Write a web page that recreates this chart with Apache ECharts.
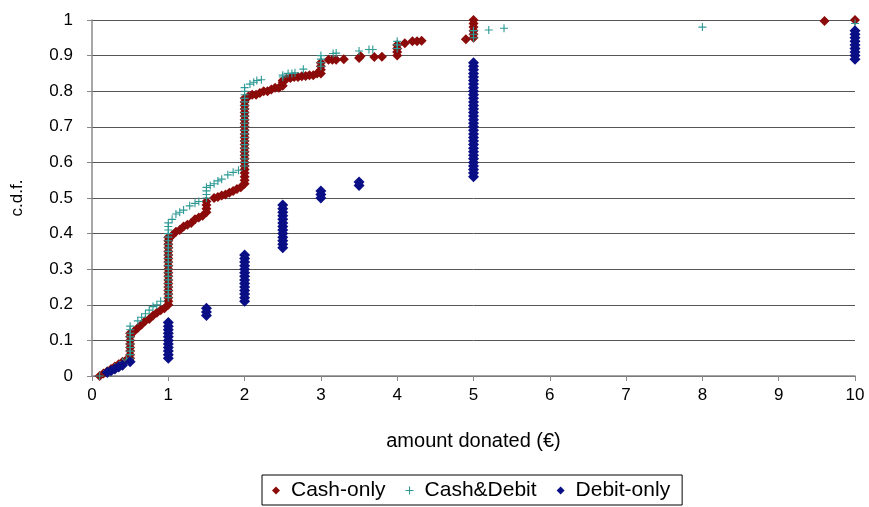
<!DOCTYPE html>
<html>
<head>
<meta charset="utf-8">
<script src="https://cdn.jsdelivr.net/npm/echarts@6/dist/echarts.min.js"></script>
<style>
html,body{margin:0;padding:0;background:#fff;}
#chart{width:869px;height:507px;}
</style>
</head>
<body>
<div id="chart"></div>
<script>
// x-axis ticks 0..10, y-axis ticks 0..1
const xTicks = [0,1,2,3,4,5,6,7,8,9,10];
const yTicks = [0,0.1,0.2,0.3,0.4,0.5,0.6,0.7,0.8,0.9,1];
const seriesNames = ['Cash-only','Cash&Debit','Debit-only'];

// [amount donated, c.d.f.]
const cashOnly = [
  [0.1,0.0],[0.15,0.007],[0.2,0.013],[0.25,0.02],[0.3,0.027],[0.35,0.033],[0.4,0.04],[0.45,0.045],
  [0.5,0.05],[0.5,0.06],[0.5,0.07],[0.5,0.08],[0.5,0.09],[0.5,0.10],[0.5,0.11],[0.5,0.12],
  [0.55,0.125],[0.6,0.135],[0.65,0.145],[0.7,0.155],[0.75,0.16],[0.8,0.17],[0.85,0.178],[0.9,0.185],[0.95,0.19],
  [1,0.20],[1,0.21],[1,0.22],[1,0.23],[1,0.24],[1,0.25],[1,0.26],[1,0.27],[1,0.28],[1,0.29],
  [1,0.30],[1,0.31],[1,0.32],[1,0.33],[1,0.34],[1,0.35],[1,0.36],[1,0.37],[1,0.38],[1,0.39],
  [1.05,0.395],[1.1,0.405],[1.15,0.41],[1.2,0.42],[1.25,0.425],[1.3,0.43],[1.35,0.44],[1.4,0.445],[1.45,0.45],
  [1.5,0.46],[1.5,0.47],[1.5,0.48],[1.5,0.49],
  [1.6,0.5],[1.65,0.503],[1.7,0.507],[1.75,0.51],[1.8,0.515],[1.85,0.52],[1.9,0.525],[1.95,0.53],
  [2,0.54],[2,0.55],[2,0.56],[2,0.57],[2,0.58],[2,0.59],[2,0.60],[2,0.61],[2,0.62],[2,0.63],
  [2,0.64],[2,0.65],[2,0.66],[2,0.67],[2,0.68],[2,0.69],[2,0.70],[2,0.71],[2,0.72],[2,0.73],
  [2,0.74],[2,0.75],[2,0.76],[2,0.77],[2,0.78],
  [2.05,0.785],[2.1,0.79],[2.15,0.79],[2.2,0.795],[2.25,0.80],[2.3,0.80],[2.35,0.805],[2.4,0.81],[2.45,0.81],
  [2.5,0.815],[2.5,0.825],[2.5,0.83],
  [2.55,0.835],[2.6,0.837],[2.65,0.84],[2.7,0.84],[2.75,0.842],[2.8,0.843],[2.85,0.845],[2.9,0.845],[2.95,0.85],
  [3,0.85],[3,0.86],[3,0.87],[3,0.88],
  [3.1,0.888],[3.15,0.888],[3.2,0.888],[3.3,0.89],[3.5,0.893],[3.52,0.898],[3.7,0.896],[3.8,0.897],
  [4,0.90],[4,0.91],[4,0.92],[4,0.93],
  [4.1,0.935],[4.2,0.94],[4.26,0.94],[4.32,0.942],
  [4.9,0.946],
  [5,0.95],[5,0.96],[5,0.97],[5,0.98],[5,0.99],[5,1.0],
  [9.6,0.997],[10,1.0]
];

const cashDebit = [
  [0.1,0.0],[0.2,0.015],[0.3,0.025],[0.4,0.04],[0.45,0.045],
  [0.5,0.05],[0.5,0.06],[0.5,0.07],[0.5,0.08],[0.5,0.09],[0.5,0.10],[0.5,0.11],[0.5,0.12],[0.5,0.13],[0.5,0.14],
  [0.6,0.155],[0.65,0.165],[0.7,0.175],[0.75,0.185],[0.8,0.195],[0.85,0.20],[0.9,0.21],
  [1,0.22],[1,0.23],[1,0.24],[1,0.25],[1,0.26],[1,0.27],[1,0.28],[1,0.29],[1,0.30],[1,0.31],
  [1,0.32],[1,0.33],[1,0.34],[1,0.35],[1,0.36],[1,0.37],[1,0.38],[1,0.39],[1,0.40],[1,0.41],
  [1,0.42],[1,0.43],
  [1.05,0.44],[1.1,0.455],[1.15,0.46],[1.2,0.466],[1.28,0.478],[1.35,0.485],[1.4,0.49],
  [1.5,0.50],[1.5,0.51],[1.5,0.52],[1.5,0.53],
  [1.55,0.535],[1.6,0.54],[1.65,0.548],[1.7,0.553],[1.78,0.565],[1.85,0.572],[1.92,0.578],
  [2,0.59],[2,0.60],[2,0.61],[2,0.62],[2,0.63],[2,0.64],[2,0.65],[2,0.66],[2,0.67],[2,0.68],
  [2,0.69],[2,0.70],[2,0.71],[2,0.72],[2,0.73],[2,0.74],[2,0.75],[2,0.76],[2,0.77],[2,0.78],
  [2,0.79],[2,0.80],[2,0.81],
  [2.07,0.82],[2.12,0.825],[2.16,0.83],[2.22,0.832],
  [2.5,0.84],[2.5,0.845],
  [2.57,0.85],[2.62,0.85],[2.66,0.852],[2.77,0.862],
  [3,0.87],[3,0.88],[3,0.89],[3,0.90],
  [3.16,0.906],[3.2,0.907],[3.5,0.913],[3.63,0.917],[3.68,0.917],
  [4,0.92],[4,0.93],[4,0.94],
  [5,0.95],[5,0.96],[5,0.97],
  [5.2,0.972],[5.4,0.977],[8.0,0.98],[10,0.99]
];

const debitOnly = [
  [0.2,0.01],[0.25,0.015],[0.3,0.02],[0.35,0.025],[0.4,0.03],[0.5,0.04],
  [1,0.05],[1,0.06],[1,0.07],[1,0.08],[1,0.09],[1,0.10],[1,0.11],[1,0.12],[1,0.13],[1,0.14],[1,0.15],
  [1.5,0.17],[1.5,0.18],[1.5,0.19],
  [2,0.21],[2,0.22],[2,0.23],[2,0.24],[2,0.25],[2,0.26],[2,0.27],[2,0.28],[2,0.29],[2,0.30],
  [2,0.31],[2,0.32],[2,0.33],[2,0.34],
  [2.5,0.36],[2.5,0.37],[2.5,0.38],[2.5,0.39],[2.5,0.40],[2.5,0.41],[2.5,0.42],[2.5,0.43],
  [2.5,0.44],[2.5,0.45],[2.5,0.46],[2.5,0.47],[2.5,0.48],
  [3,0.50],[3,0.51],[3,0.52],
  [3.5,0.535],[3.5,0.545],
  [5,0.56],[5,0.57],[5,0.58],[5,0.59],[5,0.60],[5,0.61],[5,0.62],[5,0.63],[5,0.64],[5,0.65],
  [5,0.66],[5,0.67],[5,0.68],[5,0.69],[5,0.70],[5,0.71],[5,0.72],[5,0.73],[5,0.74],[5,0.75],
  [5,0.76],[5,0.77],[5,0.78],[5,0.79],[5,0.80],[5,0.81],[5,0.82],[5,0.83],[5,0.84],[5,0.85],
  [5,0.86],[5,0.87],[5,0.88],
  [10,0.89],[10,0.90],[10,0.91],[10,0.92],[10,0.93],[10,0.94],[10,0.95],[10,0.96],[10,0.97]
];

const plusPath = 'path://M4.3,0H5.7V4.3H10V5.7H5.7V10H4.3V5.7H0V4.3H4.3Z';
const FONT = '"Liberation Sans", Arial, sans-serif';

const chart = echarts.init(document.getElementById('chart'), null, {renderer:'canvas'});
chart.setOption({
  animation: false,
  backgroundColor: '#fff',
  grid: {left: 92, right: 14, top: 20, bottom: 131, containLabel: false},
  xAxis: {
    type: 'value', min: xTicks[0], max: xTicks[xTicks.length-1], interval: 1,
    name: 'amount donated (€)', nameLocation: 'middle', nameGap: 55,
    nameTextStyle: {fontFamily: FONT, fontSize: 20, color: '#000'},
    axisLine: {lineStyle: {color: '#888', width: 1.5}},
    axisTick: {show: true, inside: false, length: 5, lineStyle: {color: '#888'}},
    axisLabel: {fontFamily: FONT, fontSize: 17, color: '#000', margin: 11},
    splitLine: {show: false}
  },
  yAxis: {
    type: 'value', min: yTicks[0], max: yTicks[yTicks.length-1], interval: 0.1,
    name: 'c.d.f.', nameLocation: 'middle', nameGap: 66, nameRotate: 90,
    nameTextStyle: {fontFamily: FONT, fontSize: 17, color: '#000'},
    axisLine: {show: true, lineStyle: {color: '#888', width: 1.5}},
    axisTick: {show: true, inside: false, length: 5, lineStyle: {color: '#888'}},
    axisLabel: {fontFamily: FONT, fontSize: 17, color: '#000', margin: 19,
      formatter: v => String(+v.toFixed(1))},
    splitLine: {show: true, lineStyle: {color: '#555', width: 1}}
  },
  legend: {
    bottom: 2, left: 262,
    data: seriesNames,
    orient: 'horizontal',
    borderColor: '#000', borderWidth: 1, padding: [5, 12, 4, 10],
    itemWidth: 8, itemHeight: 8, itemGap: 20,
    textStyle: {fontFamily: FONT, fontSize: 21, color: '#000', padding: [0,0,0,6]}
  },
  series: [
    {name: seriesNames[0], type: 'scatter', data: cashOnly, symbol: 'diamond', symbolSize: [10, 10],
      itemStyle: {color: '#8B0A0A', opacity: 1}, z: 2},
    {name: seriesNames[1], type: 'scatter', data: cashDebit, symbol: plusPath, symbolSize: 8,
      itemStyle: {color: '#2E9A96', opacity: 1}, z: 3},
    {name: seriesNames[2], type: 'scatter', data: debitOnly, symbol: 'diamond', symbolSize: [11, 11],
      itemStyle: {color: '#0A0F85', opacity: 1}, z: 4}
  ]
});
</script>
</body>
</html>
